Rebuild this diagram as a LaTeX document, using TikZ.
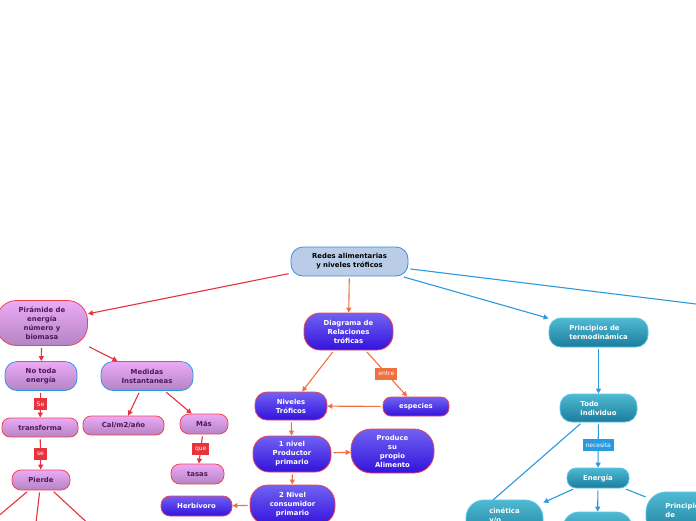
\documentclass[tikz,border=0pt]{standalone}
\usepackage{fontspec}
\setmainfont{DejaVu Sans}
\usetikzlibrary{arrows.meta}
\definecolor{redline}{HTML}{E8323C}
\definecolor{orline}{HTML}{F07040}
\definecolor{blline}{HTML}{2A9AE0}
\definecolor{vtop}{HTML}{ECAAF6}
\definecolor{vbot}{HTML}{B484C4}
\definecolor{vtext}{HTML}{4A1A5C}
\definecolor{btop}{HTML}{7062F2}
\definecolor{bbot}{HTML}{3412DC}
\definecolor{ttop}{HTML}{50BAD2}
\definecolor{tbot}{HTML}{1A7C9C}
\definecolor{tbord}{HTML}{5CC4E4}
\definecolor{rfill}{HTML}{BACDE8}
\definecolor{rbord}{HTML}{3A8ED8}
\definecolor{redbord}{HTML}{F04450}
\tikzset{
  base/.style={align=center, font=\fontsize{6.9}{9}\selectfont\bfseries, inner sep=1pt, line width=0.8pt},
  rnode/.style={base, draw=rbord, fill=rfill, text=black},
  vnode/.style={base, draw=redbord, top color=vtop, bottom color=vbot, text=vtext},
  vnodeb/.style={vnode, draw=blline},
  bnode/.style={base, draw=redbord, top color=btop, bottom color=bbot, text=white},
  tnode/.style={base, draw=tbord, top color=ttop, bottom color=tbot, text=white},
  lab/.style={font=\fontsize{6}{7}\selectfont, text=white, inner xsep=3pt, inner ysep=1.5pt, minimum height=12pt},
  arr/.style={-{Triangle[length=5pt,width=5pt]}, line width=1.1pt, shorten <=2pt},
  ln/.style={line width=1.1pt, shorten <=2pt},
  sz/.style n args={3}{minimum width=#1pt, minimum height=#2pt, rounded corners=#3pt}
}
\begin{document}
\begin{tikzpicture}[x=1pt,y=-1pt]
\useasboundingbox (0,0) rectangle (696,520);
\clip (0,0) rectangle (696,520);
% nodes
\node[rnode, sz={117}{29}{12}] (red) at (349.5,261.5) {Redes alimentarias\\y niveles tróficos};
\node[vnode, sz={91}{45}{20}] (pir) at (42,323) {Pirámide de\\energía\\número y\\biomasa};
\node[vnodeb, sz={72}{29}{12}] (nto) at (41,376) {No toda\\energía};
\node[vnodeb, sz={92}{29}{12}] (med) at (147,376) {Medidas\\Instantaneas};
\node[vnode, sz={76}{19}{8}] (tra) at (40,427.5) {transforma};
\node[vnode, sz={81}{19}{8}] (cal) at (123.5,425.5) {Cal/m2/año};
\node[vnode, sz={48}{20}{9}] (mas) at (204,424) {Más};
\node[vnode, sz={53}{20}{9}] (tas) at (197.5,474) {tasas};
\node[vnode, sz={58}{20}{9}] (pie) at (41,480) {Pierde};
\node[bnode, sz={71}{20}{9}] (her) at (196.5,506) {Herbívoro};
\node[bnode, sz={89}{37}{16}] (dia) at (348.5,331.5) {Diagrama de\\Relaciones\\tróficas};
\node[bnode, sz={72}{28}{12}] (niv) at (291,406) {Niveles\\Tróficos};
\node[bnode, sz={66}{19}{8}] (esp) at (416,406.5) {especies};
\node[bnode, sz={78}{36}{16}] (n1) at (292,454) {1 nivel\\Productor\\primario};
\node[bnode, sz={83}{44}{20}] (pro) at (392.5,451) {Produce\\su\\propio\\Alimento};
\node[bnode, sz={85}{40}{18}] (n2) at (292.5,505) {2 Nivel\\consumidor\\primario};
\node[tnode, sz={99}{29}{12}, align=left] (pri) at (598.5,332.5) {Principios de\\termodinámica};
\node[tnode, sz={77}{28}{12}, align=left] (tod) at (598.5,408) {Todo\\individuo};
\node[tnode, sz={62}{20}{9}] (ene) at (598,478) {Energía};
\node[tnode, sz={77}{40}{18}, align=left] (cin) at (504.5,520) {cinética\\y/o\\{}};
\node[tnode, sz={69}{36}{16}] (emp) at (597.5,530) {};
\node[tnode, sz={90}{46}{20}, align=left] (pco) at (691,515) {Principio\\de\\conservación};
% free ends
\coordinate (offR) at (900,329);
\coordinate (c1) at (-30,540);
\coordinate (c2) at (34,540);
\coordinate (c3) at (106,540);
\coordinate (tl) at (493,500);
% connectors
\draw[arr, redline] (red) -- (pir);
\draw[arr, orline] (red) -- (dia);
\draw[arr, blline] (red) -- (pri);
\draw[ln, blline] (red) -- (offR);
\draw[arr, redline] (pir) -- (nto);
\draw[arr, redline] (pir) -- (med);
\draw[arr, redline] (nto) -- node[lab, fill=redline]{Se} (tra);
\draw[arr, redline] (tra) -- node[lab, fill=redline]{se} (pie);
\draw[arr, redline] (med) -- (cal);
\draw[arr, redline] (med) -- (mas);
\draw[arr, redline] (mas) -- node[lab, fill=redline]{que} (tas);
\draw[ln, redline] (pie) -- (c1);
\draw[ln, redline] (pie) -- (c2);
\draw[ln, redline] (pie) -- (c3);
\draw[arr, orline] (dia) -- (niv);
\draw[arr, orline] (dia) -- node[lab, fill=orline]{entre} (esp);
\draw[arr, orline] (esp) -- (niv);
\draw[arr, orline] (niv) -- (n1);
\draw[arr, orline] (n1) -- (pro);
\draw[arr, orline] (n1) -- (n2);
\draw[arr, orline] (n2) -- (her);
\draw[arr, blline] (pri) -- (tod);
\draw[arr, blline] (tod) -- node[lab, fill=blline]{necesita} (ene);
\draw[ln, blline] (tod) -- (tl);
\draw[arr, blline] (ene) -- (cin);
\draw[arr, blline] (ene) -- (emp);
\draw[ln, blline] (ene) -- (pco);
\end{tikzpicture}
\end{document}
